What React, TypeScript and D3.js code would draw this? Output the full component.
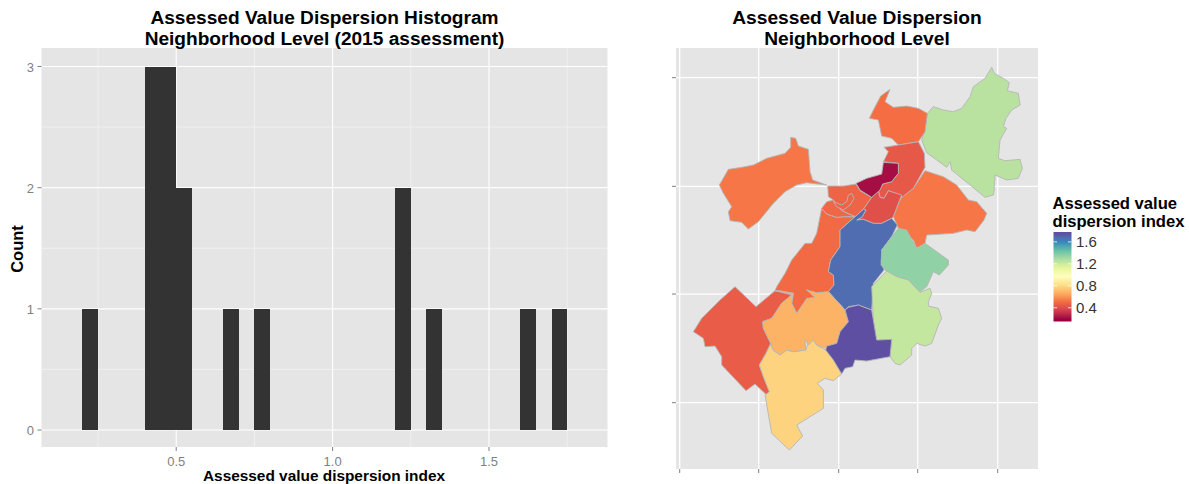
import React from "react";
import * as d3 from "d3";

const W = 1189, H = 484;
const FONT = "'Liberation Sans', Arial, sans-serif";

// Histogram
const binStarts = [0.2, 0.4, 0.45, 0.5, 0.65, 0.75, 1.2, 1.3, 1.6, 1.7];
const binCounts = [1, 3, 3, 2, 1, 1, 2, 1, 1, 1];
const binWidth = 0.05;
const histXTicks = [0.5, 1.0, 1.5];
const histXMinor = [0.25, 0.75, 1.25, 1.75];
const histYTicks = [0, 1, 2, 3];
const histYMinor = [0.5, 1.5, 2.5];
const histTitle = ["Assessed Value Dispersion Histogram", "Neighborhood Level (2015 assessment)"];
const histXLabel = "Assessed value dispersion index";
const histYLabel = "Count";

// Map: boundaries in survey-grid units
const mapGridX = [59, 296, 536, 773, 1013];
const mapGridY = [53, 379, 702, 1028];
const mapTitle = ["Assessed Value Dispersion", "Neighborhood Level"];

type Hood = { value: number; ring: number[][] };
const neLightGreen: Hood = { value: 1.25, ring: [[995,22],[1003,40],[1030,55],[1048,68],[1042,92],[1075,100],[1080,135],[1055,150],[1038,175],[1030,200],[1040,205],[1020,240],[1015,295],[1035,302],[1080,298],[1087,325],[1075,355],[1040,360],[1005,345],[1002,395],[1000,405],[975,412],[930,375],[875,330],[870,305],[860,322],[830,300],[800,278],[785,240],[795,210],[802,160],[820,140],[850,150],[880,155],[905,145],[930,110],[940,80],[975,55]] };
const northOrange: Hood = { value: 0.51, ring: [[690,88],[675,125],[700,142],[740,138],[775,145],[802,160],[795,215],[775,245],[715,255],[695,235],[665,228],[655,180],[628,175],[640,150],[662,108]] };
const northCentre: Hood = { value: 0.44, ring: [[672,262],[715,255],[775,245],[793,280],[795,322],[760,385],[728,410],[685,392],[672,415],[660,412],[655,392],[668,372],[695,365],[715,340],[715,310],[670,305],[685,275]] };
const westOrange: Hood = { value: 0.53, ring: [[392,232],[407,235],[415,258],[445,268],[450,335],[458,360],[500,375],[440,368],[410,375],[375,395],[340,430],[295,485],[265,507],[245,487],[210,482],[205,455],[215,440],[190,400],[178,375],[205,328],[245,322],[280,315],[320,295],[375,280],[392,262]] };
const harbourNorth: Hood = { value: 0.48, ring: [[503,378],[550,378],[588,372],[600,392],[635,412],[610,448],[585,470],[545,452],[520,420],[505,410]] };
const harbourIsland: Hood = { value: 0.48, ring: [[575,400],[582,415],[570,435],[550,450],[530,440],[520,425],[545,435],[560,425],[565,405]] };
const harbourSouth: Hood = { value: 0.49, ring: [[485,445],[500,425],[520,420],[545,452],[585,470],[550,470],[530,472],[500,462]] };
const longStrip: Hood = { value: 0.5, ring: [[485,445],[500,462],[530,472],[550,470],[585,470],[540,510],[540,560],[512,600],[505,635],[520,645],[522,675],[505,695],[470,700],[440,690],[465,712],[410,760],[395,730],[400,700],[360,692],[345,692],[350,680],[375,640],[395,600],[435,550],[455,550],[470,520]] };
const blueCentre: Hood = { value: 1.67, ring: [[610,448],[618,450],[605,472],[590,480],[610,478],[640,490],[665,490],[695,475],[712,495],[695,530],[665,570],[680,600],[663,600],[672,630],[640,670],[635,750],[595,735],[565,740],[555,750],[505,695],[522,675],[520,645],[505,635],[512,600],[540,560],[540,510],[585,470]] };
const redCentre: Hood = { value: 0.41, ring: [[655,392],[660,412],[672,415],[685,392],[725,405],[715,430],[700,470],[695,475],[665,490],[640,490],[610,478],[590,480],[605,472],[618,450],[610,448],[635,412]] };
const darkRed: Hood = { value: 0.22, ring: [[670,307],[715,310],[715,340],[695,365],[668,372],[660,390],[635,412],[600,390],[588,370],[620,355],[665,342]] };
const seOrange: Hood = { value: 0.53, ring: [[795,332],[850,350],[890,375],[925,420],[950,425],[980,460],[972,480],[945,515],[920,510],[880,520],[800,525],[795,550],[770,565],[760,540],[715,505],[700,470],[715,430],[725,410],[760,385]] };
const tealGreen: Hood = { value: 1.35, ring: [[715,505],[740,510],[770,565],[795,550],[865,600],[865,615],[838,645],[820,635],[800,680],[780,695],[745,660],[710,650],[680,635],[663,615],[665,570],[695,530]] };
const seLightGreen: Hood = { value: 1.22, ring: [[680,633],[710,650],[745,660],[780,697],[810,685],[815,700],[805,725],[805,738],[835,745],[845,775],[835,795],[815,850],[795,858],[770,850],[755,865],[755,885],[720,915],[705,910],[690,890],[695,838],[650,845],[640,780],[635,680]] };
const purpleSouth: Hood = { value: 1.75, ring: [[565,742],[595,735],[635,750],[640,780],[650,840],[695,838],[690,890],[620,903],[585,900],[578,920],[555,925],[545,942],[520,900],[497,870],[500,858],[530,850],[540,815],[565,785],[555,750]] };
const lightOrange: Hood = { value: 0.68, ring: [[345,692],[400,700],[395,730],[410,760],[440,715],[465,712],[440,690],[470,698],[505,695],[555,750],[565,785],[540,815],[530,850],[497,865],[470,855],[460,840],[445,855],[435,840],[437,870],[400,875],[380,870],[360,885],[340,870],[332,850],[310,805],[308,785],[335,775],[365,730],[395,705]] };
const yellowSouth: Hood = { value: 0.78, ring: [[332,852],[340,872],[360,885],[380,870],[400,875],[437,870],[445,845],[460,840],[470,855],[497,870],[520,900],[545,942],[520,962],[495,955],[472,970],[490,990],[490,1045],[410,1095],[428,1128],[388,1170],[335,1120],[315,1005],[328,995],[310,950],[298,915],[318,880]] };
const swRed: Hood = { value: 0.45, ring: [[225,680],[288,740],[345,692],[400,700],[365,730],[335,775],[308,785],[310,805],[332,850],[318,880],[298,915],[310,950],[328,995],[320,1005],[285,972],[258,992],[185,915],[185,890],[165,858],[135,860],[130,835],[100,815],[125,775],[180,720]] };

const hoods = [neLightGreen, northOrange, westOrange, seOrange, northCentre, longStrip, harbourNorth, harbourSouth, harbourIsland, redCentre, darkRed, blueCentre, tealGreen, seLightGreen, swRed, yellowSouth, lightOrange, purpleSouth];

// Legend
const legendTitle = ["Assessed value", "dispersion index"];
const legendTicks = [0.4, 0.8, 1.2, 1.6];
const spectralLowHigh = ["#9E0142", "#D53E4F", "#F46D43", "#FDAE61", "#FEE08B", "#FFFFBF", "#E6F598", "#ABDDA4", "#66C2A5", "#3288BD", "#5E4FA2"];
const colorDomain = [0.2, 1.75];
const legendDomain = [0.15, 1.78];

const PANEL_BG = "#E5E5E5";
const GREY = "#7F7F7F";

const histBox = { l: 41.5, r: 607.5, t: 48, b: 447 };
const mapBox = { l: 676, r: 1038, t: 48, b: 469 };
const legendBar = { l: 1053.5, r: 1071.5, t: 232, b: 321.5 };

export default function App() {
  const hx = d3.scaleLinear().domain([0.5, 1.5]).range([176.2, 489]);
  const hy = d3.scaleLinear().domain([0, 3]).range([430, 66.5]);
  const mx = d3.scaleLinear().domain([mapGridX[0], mapGridX[4]]).range([679.7, 997.7]);
  const my = d3.scaleLinear().domain([mapGridY[0], mapGridY[3]]).range([77.7, 402.7]);
  const stepPositions = spectralLowHigh.map((_, i) => colorDomain[0] + (i * (colorDomain[1] - colorDomain[0])) / (spectralLowHigh.length - 1));
  const color = d3.scaleLinear<string>().domain(stepPositions).range(spectralLowHigh).interpolate(d3.interpolateLab).clamp(true);
  const ly = d3.scaleLinear().domain(legendDomain).range([legendBar.b, legendBar.t]);
  const path = d3.line<number[]>().x(d => mx(d[0])).y(d => my(d[1])).curve(d3.curveLinearClosed);
  const gradStops = d3.range(0, 41).map(i => {
    const v = legendDomain[0] + (i / 40) * (legendDomain[1] - legendDomain[0]);
    return { off: i / 40, c: color(v) };
  });

  return (
    <svg width={W} height={H} viewBox={`0 0 ${W} ${H}`} style={{ position: "absolute", left: 0, top: 0, display: "block", background: "#fff" }} fontFamily={FONT}>
      <defs>
        <linearGradient id="legendGrad" x1="0" y1="1" x2="0" y2="0">
          {gradStops.map((s, i) => <stop key={i} offset={s.off} stopColor={s.c} />)}
        </linearGradient>
      </defs>

      {/* Histogram */}
      <rect x={histBox.l} y={histBox.t} width={histBox.r - histBox.l} height={histBox.b - histBox.t} fill={PANEL_BG} />
      {histXMinor.map(v => <line key={v} x1={hx(v)} x2={hx(v)} y1={histBox.t} y2={histBox.b} stroke="#F2F2F2" strokeWidth={0.8} />)}
      {histYMinor.map(v => <line key={v} y1={hy(v)} y2={hy(v)} x1={histBox.l} x2={histBox.r} stroke="#F2F2F2" strokeWidth={0.8} />)}
      {histXTicks.map(v => <line key={v} x1={hx(v)} x2={hx(v)} y1={histBox.t} y2={histBox.b} stroke="#fff" strokeWidth={1.1} />)}
      {histYTicks.map(v => <line key={v} y1={hy(v)} y2={hy(v)} x1={histBox.l} x2={histBox.r} stroke="#fff" strokeWidth={1.1} />)}
      {binStarts.map((b, i) => (
        <rect key={b} x={hx(b)} width={hx(b + binWidth) - hx(b)} y={hy(binCounts[i])} height={hy(0) - hy(binCounts[i])} fill="#333333" shapeRendering="crispEdges" />
      ))}
      {histXTicks.map(v => (
        <g key={v}>
          <line x1={hx(v)} x2={hx(v)} y1={histBox.b} y2={histBox.b + 4} stroke={GREY} strokeWidth={1} />
          <text x={hx(v)} y={466} textAnchor="middle" fontSize={13} fill={GREY}>{d3.format(".1f")(v)}</text>
        </g>
      ))}
      {histYTicks.map(v => (
        <g key={v}>
          <line x1={histBox.l - 4} x2={histBox.l} y1={hy(v)} y2={hy(v)} stroke={GREY} strokeWidth={1} />
          <text x={34} y={hy(v) + 5} textAnchor="end" fontSize={13} fill={GREY}>{v}</text>
        </g>
      ))}
      {histTitle.map((t, i) => (
        <text key={t} x={324.5} y={24 + i * 21} textAnchor="middle" fontSize={19.1} fontWeight="bold" fill="#000">{t}</text>
      ))}
      <text x={324} y={481} textAnchor="middle" fontSize={15.4} fontWeight="bold" fill="#000">{histXLabel}</text>
      <text transform="translate(23,249) rotate(-90)" textAnchor="middle" fontSize={16.5} fontWeight="bold" fill="#000">{histYLabel}</text>

      {/* Map */}
      <rect x={mapBox.l} y={mapBox.t} width={mapBox.r - mapBox.l} height={mapBox.b - mapBox.t} fill={PANEL_BG} />
      {mapGridX.map(v => <line key={v} x1={mx(v)} x2={mx(v)} y1={mapBox.t} y2={mapBox.b} stroke="#fff" strokeWidth={1.3} />)}
      {mapGridY.map(v => <line key={v} y1={my(v)} y2={my(v)} x1={mapBox.l} x2={mapBox.r} stroke="#fff" strokeWidth={1.3} />)}
      {hoods.map((h, i) => (
        <path key={i} d={path(h.ring) || ""} fill={color(h.value)} stroke="#B5B5B5" strokeWidth={0.9} strokeLinejoin="round" />
      ))}
      {mapGridX.map(v => <line key={v} x1={mx(v)} x2={mx(v)} y1={mapBox.b} y2={mapBox.b + 4} stroke={GREY} strokeWidth={1} />)}
      {mapGridY.map(v => <line key={v} x1={mapBox.l - 4} x2={mapBox.l} y1={my(v)} y2={my(v)} stroke={GREY} strokeWidth={1} />)}
      {mapTitle.map((t, i) => (
        <text key={t} x={857} y={24 + i * 21} textAnchor="middle" fontSize={19.2} fontWeight="bold" fill="#000">{t}</text>
      ))}

      {/* Legend */}
      {legendTitle.map((t, i) => (
        <text key={t} x={1052.5} y={209 + i * 18} fontSize={16.6} fontWeight="bold" fill="#000">{t}</text>
      ))}
      <rect x={legendBar.l} y={legendBar.t} width={legendBar.r - legendBar.l} height={legendBar.b - legendBar.t} fill="url(#legendGrad)" />
      {legendTicks.map(v => (
        <g key={v}>
          <line x1={legendBar.l} x2={legendBar.l + 3.6} y1={ly(v)} y2={ly(v)} stroke="#fff" strokeWidth={0.8} />
          <line x1={legendBar.r - 3.6} x2={legendBar.r} y1={ly(v)} y2={ly(v)} stroke="#fff" strokeWidth={0.8} />
          <text x={1076} y={ly(v) + 5.5} fontSize={15} fill="#333">{d3.format(".1f")(v)}</text>
        </g>
      ))}
    </svg>
  );
}
